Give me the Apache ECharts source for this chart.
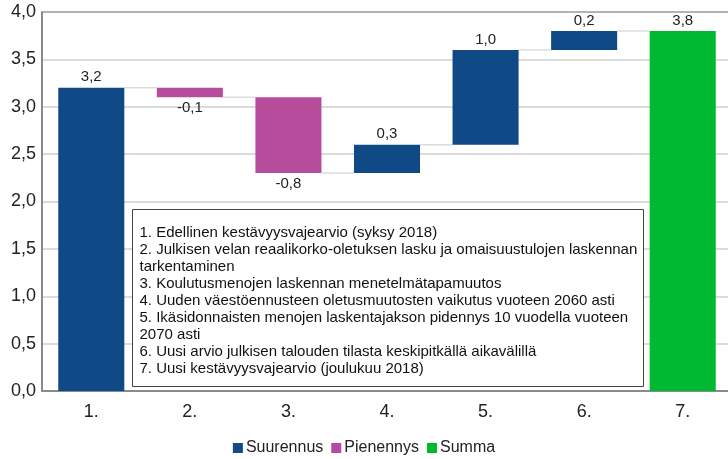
<!DOCTYPE html>
<html>
<head>
<meta charset="utf-8">
<script src="https://cdn.jsdelivr.net/npm/echarts@6/dist/echarts.min.js"></script>
<style>
  html, body { margin: 0; padding: 0; background: #ffffff; }
  #chart { width: 728px; height: 459px; }
</style>
</head>
<body>
<div id="chart"></div>
<script>
// Waterfall: change in the sustainability gap, % of GDP
var categories = ['1.', '2.', '3.', '4.', '5.', '6.', '7.'];
var increases = [3.2, null, null, 0.3, 1.0, 0.2, null];   // Suurennus
var decreases = [null, -0.1, -0.8, null, null, null, null]; // Pienennys
var totals = [null, null, null, null, null, null, 3.8];     // Summa
var yTicks = [0, 0.5, 1.0, 1.5, 2.0, 2.5, 3.0, 3.5, 4.0];

var legendNames = ['Suurennus', 'Pienennys', 'Summa'];
var notes = [
  '1. Edellinen kestävyysvajearvio (syksy 2018)',
  '2. Julkisen velan reaalikorko-oletuksen lasku ja omaisuustulojen laskennan',
  'tarkentaminen',
  '3. Koulutusmenojen laskennan menetelmätapamuutos',
  '4. Uuden väestöennusteen oletusmuutosten vaikutus vuoteen 2060 asti',
  '5. Ikäsidonnaisten menojen laskentajakson pidennys 10 vuodella vuoteen',
  '2070 asti',
  '6. Uusi arvio julkisen talouden tilasta keskipitkällä aikavälillä',
  '7. Uusi kestävyysvajearvio (joulukuu 2018)'
];

var BLUE = '#0f4a87', PINK = '#b64c9b', GREEN = '#00b932';
var FONT = 'Liberation Sans, Arial, sans-serif';

// Running levels: invisible base, visible bar heights and connector levels
var base = [], incBars = [], decBars = [], totBars = [], levels = [];
var level = 0;
for (var i = 0; i < categories.length; i++) {
  if (totals[i] != null) {
    base.push(0); incBars.push('-'); decBars.push('-'); totBars.push(totals[i]);
    level = totals[i];
  } else if (increases[i] != null) {
    base.push(+level.toFixed(3)); incBars.push(increases[i]); decBars.push('-'); totBars.push('-');
    level += increases[i];
  } else {
    level += decreases[i];
    base.push(+level.toFixed(3)); incBars.push('-'); decBars.push(-decreases[i]); totBars.push('-');
  }
  levels.push(+level.toFixed(3));
}

function fmt(v) { return v.toFixed(1).replace('.', ','); }

var connectors = [];
for (var j = 0; j < categories.length - 1; j++) connectors.push([j, levels[j]]);

var chart = echarts.init(document.getElementById('chart'));
var barW = '67%';
chart.setOption({
  animation: false,
  textStyle: { fontFamily: FONT },
  grid: { left: 42, top: 12, width: 690, height: 379, containLabel: false, outerBoundsMode: 'none' },
  legend: {
    data: legendNames,
    top: 435,
    left: 'center',
    itemWidth: 10, itemHeight: 10, itemGap: 8,
    icon: 'rect',
    textStyle: { fontSize: 16, color: '#222', padding: [0, 0, 0, -2] }
  },
  xAxis: {
    type: 'category',
    data: categories,
    axisLine: { show: true, lineStyle: { color: '#8a8a8a', width: 2 } },
    axisTick: { show: false },
    axisLabel: { fontSize: 18, color: '#222', margin: 12 }
  },
  yAxis: {
    type: 'value',
    min: yTicks[0], max: yTicks[yTicks.length - 1], interval: 0.5,
    axisLine: { show: true, lineStyle: { color: '#8a8a8a', width: 2 } },
    axisTick: { show: false },
    axisLabel: { fontSize: 18, color: '#222', margin: 6, formatter: function (v) { return fmt(v); } },
    splitLine: {
      show: true,
      lineStyle: {
        color: yTicks.map(function (t) { return t === 4 ? '#9a9a9a' : '#cfcfcf'; }),
        width: 1.5
      }
    }
  },
  series: [
    {
      name: 'base', type: 'bar', stack: 'w', barWidth: barW, silent: true,
      itemStyle: { color: 'transparent' }, data: base
    },
    {
      name: 'Suurennus', type: 'bar', stack: 'w', barWidth: barW,
      itemStyle: { color: BLUE },
      label: { show: true, position: 'top', distance: 3, fontSize: 15, color: '#222',
               formatter: function (p) { return fmt(p.value); } },
      data: incBars
    },
    {
      name: 'Pienennys', type: 'bar', stack: 'w', barWidth: barW,
      itemStyle: { color: PINK },
      label: { show: true, position: 'bottom', distance: 3, fontSize: 15, color: '#222',
               formatter: function (p) { return fmt(-p.value); } },
      data: decBars
    },
    {
      name: 'Summa', type: 'bar', stack: 'w', barWidth: barW,
      itemStyle: { color: GREEN },
      label: { show: true, position: 'top', distance: 3, fontSize: 15, color: '#222',
               formatter: function (p) { return fmt(p.value); } },
      data: totBars
    },
    {
      // thin connectors between successive bar ends
      name: 'connector', type: 'custom', silent: true, z: 1,
      renderItem: function (params, api) {
        var p = api.coord([api.value(0), api.value(1)]);
        var band = api.size([1, 0])[0];
        var half = band * 0.67 / 2;
        return {
          type: 'line',
          shape: { x1: p[0] + half, y1: p[1], x2: p[0] + band - half, y2: p[1] },
          style: { stroke: '#dcdcdc', lineWidth: 1.5 }
        };
      },
      data: connectors
    }
  ],
  graphic: [
    {
      type: 'group', left: 132, top: 209, z: 100,
      children: [
        { type: 'rect', z: 100, shape: { x: 0, y: 0, width: 511, height: 177 },
          style: { fill: '#ffffff', stroke: '#444', lineWidth: 1 } },
        { type: 'text', z: 101, left: 7, top: 15,
          style: { text: notes.join('\n'), fontSize: 15, lineHeight: 17, fill: '#111',
                   fontFamily: FONT } }
      ]
    }
  ]
});
</script>
</body>
</html>
